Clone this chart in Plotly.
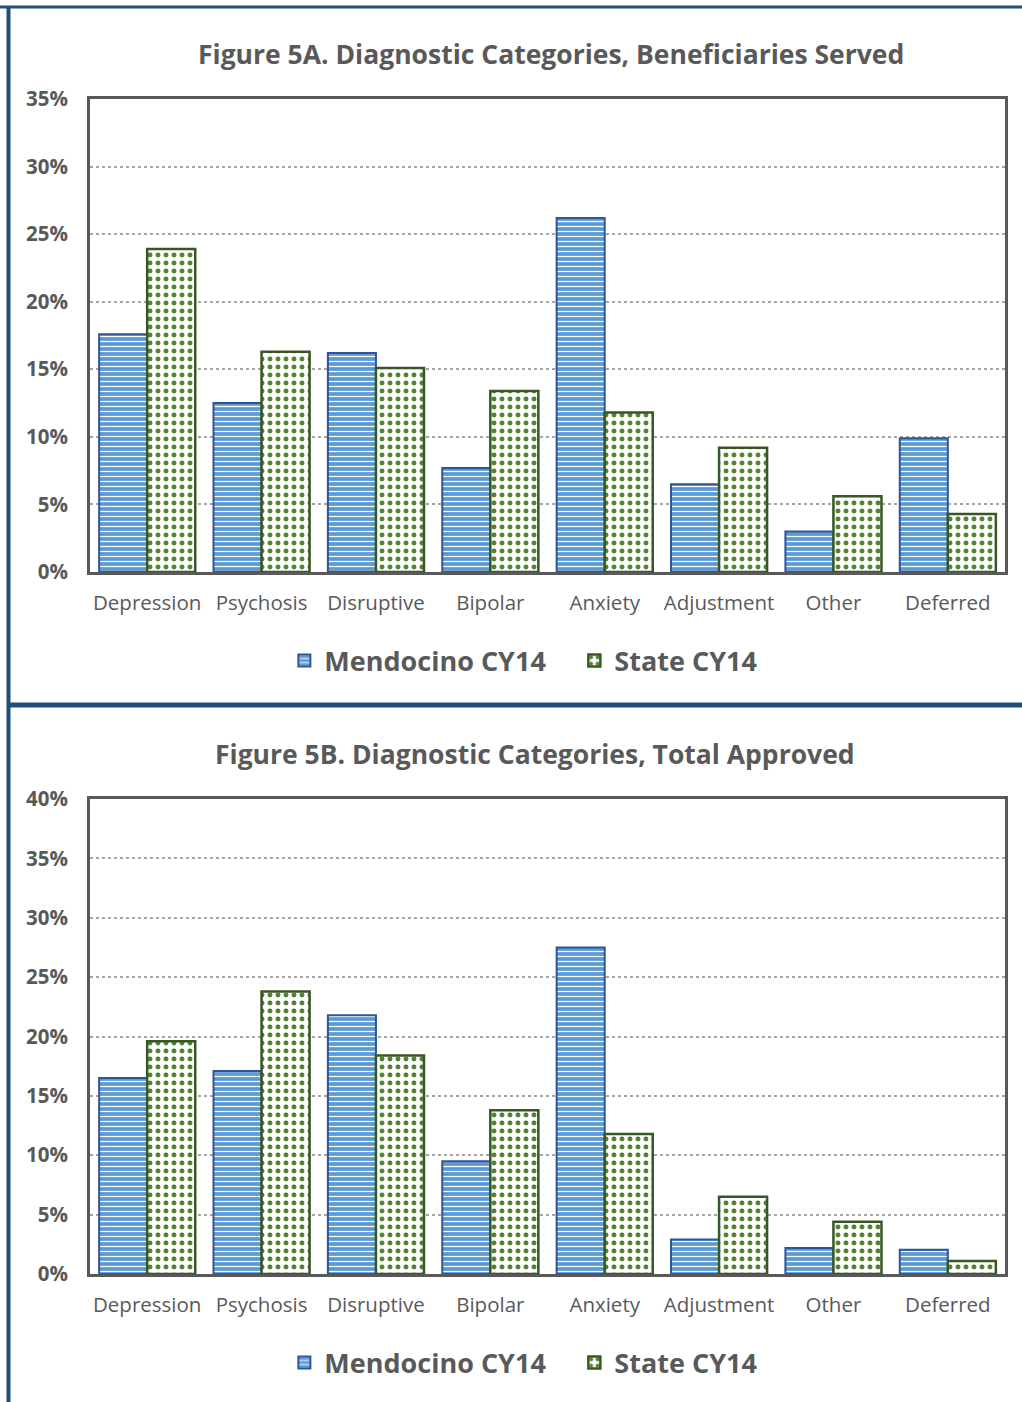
import plotly.graph_objects as go

# Diagnostic categories shared by both panels
categories = ["Depression", "Psychosis", "Disruptive", "Bipolar",
              "Anxiety", "Adjustment", "Other", "Deferred"]

# Figure 5A: beneficiaries served (%)
served_mendocino = [17.6, 12.5, 16.2, 7.7, 26.2, 6.5, 3.0, 9.9]
served_state = [23.9, 16.3, 15.1, 13.4, 11.8, 9.2, 5.6, 4.3]

# Figure 5B: total approved (%)
approved_mendocino = [16.5, 17.1, 21.8, 9.5, 27.5, 2.9, 2.2, 2.05]
approved_state = [19.6, 23.8, 18.4, 13.8, 11.8, 6.5, 4.4, 1.1]

series_names = ["Mendocino CY14", "State CY14"]
titles = ["Figure 5A. Diagnostic Categories, Beneficiaries Served",
          "Figure 5B. Diagnostic Categories, Total Approved"]

W, H = 1022, 1402
TEXT = "#595959"
FONT = "Open Sans"
BLUE_FILL, BLUE_EDGE = "#5B9BD5", "#2F5597"
GREEN_DOT, GREEN_EDGE = "#548235", "#385723"
FRAME = "#1F4E79"


def py(px):
    """Convert a pixel row (from top) to paper y."""
    return 1 - px / H


def px_x(px):
    return px / W


fig = go.Figure()


def add_pair(mend, state, xaxis, yaxis, legend):
    fig.add_trace(go.Bar(
        x=categories, y=mend, name=series_names[0],
        xaxis=xaxis, yaxis=yaxis, legend=legend,
        marker=dict(
            color=BLUE_FILL,
            line=dict(color=BLUE_EDGE, width=2),
            pattern=dict(shape="-", fgcolor="white", bgcolor=BLUE_FILL,
                         size=5, solidity=0.25, fillmode="replace"),
        ),
    ))
    fig.add_trace(go.Bar(
        x=categories, y=state, name=series_names[1],
        xaxis=xaxis, yaxis=yaxis, legend=legend,
        marker=dict(
            color="white",
            line=dict(color=GREEN_EDGE, width=2.5),
            pattern=dict(shape=".", fgcolor=GREEN_DOT, bgcolor="white",
                         size=8, solidity=0.3, fillmode="replace"),
        ),
    ))


add_pair(served_mendocino, served_state, "x", "y", "legend")
add_pair(approved_mendocino, approved_state, "x2", "y2", "legend2")

x_dom = [px_x(90), px_x(1005)]
xcommon = dict(
    domain=x_dom, showline=True, linecolor=TEXT, linewidth=3, mirror=True,
    showgrid=False, ticks="", ticklabelstandoff=10, automargin=False,
    tickfont=dict(family=FONT, size=20.5, color=TEXT),
)
ycommon = dict(
    showline=True, linecolor=TEXT, linewidth=3, mirror=True,
    showgrid=True, gridcolor="#A6A6A6", gridwidth=1.5, griddash="dot",
    dtick=5, ticksuffix="%", ticks="", ticklabelstandoff=15,
    zeroline=False, automargin=False,
    tickfont=dict(family=FONT, size=20.5, color=TEXT, weight="bold"),
)

legend_common = dict(
    orientation="h", x=0.562, xanchor="center", yanchor="middle",
    font=dict(family=FONT, size=27, color=TEXT, weight="bold"),
    entrywidth=245, entrywidthmode="pixels",
    bgcolor="rgba(0,0,0,0)",
)

fig.update_layout(
    width=W, height=H,
    margin=dict(l=0, r=0, t=0, b=0, autoexpand=False),
    paper_bgcolor="white", plot_bgcolor="white",
    barmode="group", bargap=0.16, bargroupgap=0,
    xaxis=dict(**xcommon, anchor="y"),
    yaxis=dict(**ycommon, domain=[py(572), py(99)], range=[0, 35], anchor="x"),
    xaxis2=dict(**xcommon, anchor="y2"),
    yaxis2=dict(**ycommon, domain=[py(1274), py(799)], range=[0, 40], anchor="x2"),
    legend=dict(**legend_common, y=py(661)),
    legend2=dict(**legend_common, y=py(1363)),
    showlegend=True,
)

# Panel titles
for text, xc, yc in [(titles[0], 551, 54), (titles[1], 535, 754)]:
    fig.add_annotation(
        text=text, xref="paper", yref="paper", x=px_x(xc), y=py(yc),
        xanchor="center", yanchor="middle", showarrow=False,
        font=dict(family=FONT, size=26.5, color=TEXT, weight="bold"),
    )

# Page frame: top rule, left rule and divider between the two panels
frame_lines = [
    (0, py(7), 1, py(7), 3),
    (px_x(8.5), py(7), px_x(8.5), 0, 4),
    (px_x(8.5), py(705), 1, py(705), 5),
]
for x0, y0, x1, y1, w in frame_lines:
    fig.add_shape(type="line", xref="paper", yref="paper",
                  x0=x0, y0=y0, x1=x1, y1=y1,
                  line=dict(color=FRAME, width=w))

fig.write_html("out.html")
